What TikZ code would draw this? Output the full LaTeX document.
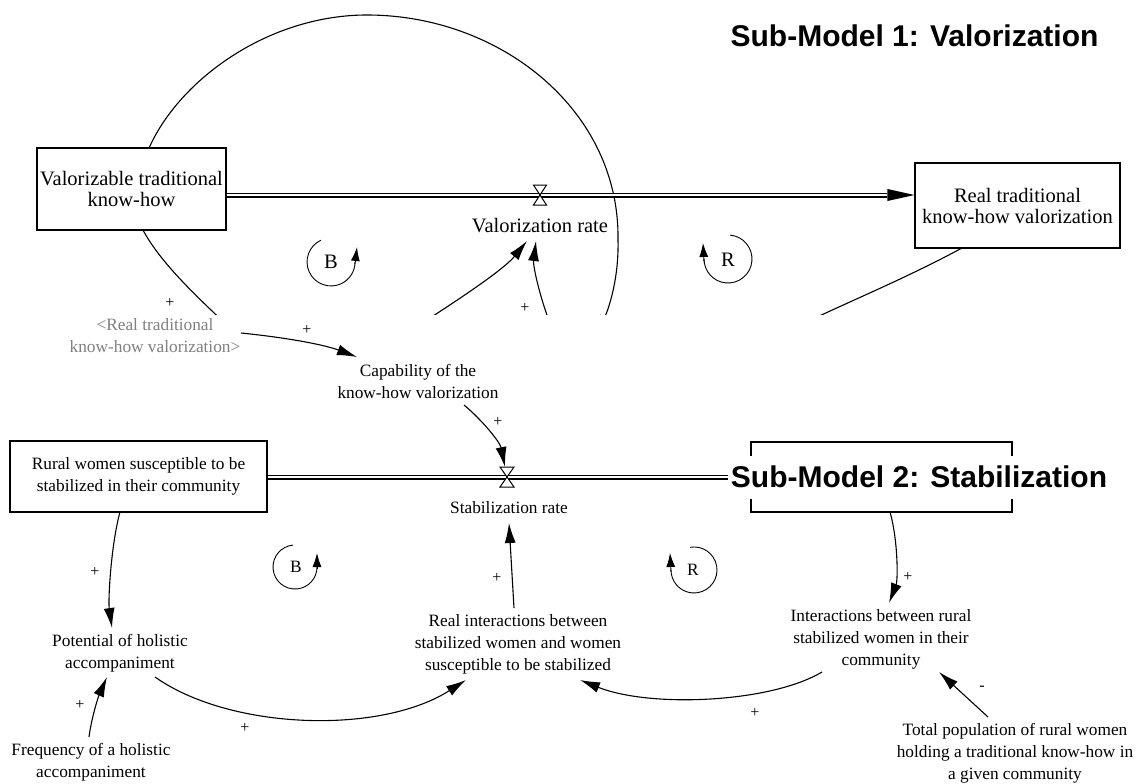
\documentclass[tikz,border=0pt]{standalone}
\usepackage{fontspec}
\setmainfont{Liberation Serif}
\setsansfont{Liberation Sans}
\usetikzlibrary{arrows.meta,calc}
\begin{document}
\begin{tikzpicture}[x=1pt,y=-1pt,
  stock/.style={draw, line width=1.1pt, fill=white, inner sep=0pt, align=center},
  toptxt/.style={font=\fontsize{20.5}{21}\selectfont, align=center, inner sep=0pt},
  bottxt/.style={font=\fontsize{17.3}{22}\selectfont, align=center, inner sep=0pt},
  signlbl/.style={font=\fontsize{16}{16}\selectfont, inner sep=0pt},
  link/.style={line width=1.1pt, -{Latex[length=20pt,width=11pt]}},
  pipe/.style={double, double distance=2.8pt, line width=1.1pt},
  valvest/.style={draw, fill=white, line width=1pt},
  loopline/.style={line width=0.9pt},
  looptip/.style={line width=0.9pt, -{Latex[length=14pt,width=9pt]}},
  subtitle/.style={font=\sffamily\bfseries\fontsize{30}{30}\selectfont, inner sep=0pt}
]
\useasboundingbox (0,0) rectangle (1138,784);
\fill[white] (0,0) rectangle (1138,784);

% ---------- Sub-model 1 (clipped at its lower edge) ----------
\coordinate (cA) at (230,328);
\coordinate (cB) at (143,230);
\coordinate (cC) at (367,15);
\coordinate (cD) at (618,240);
\coordinate (cE) at (597,335);
\begin{scope}
  \clip (0,0) rectangle (1138,314);
  \draw[link] (cA) .. controls (195,295) and (160,262) .. (cB)
     .. controls (110,140) and (230,15) .. (cC)
     .. controls (500,15) and (620,110) .. (cD)
     .. controls (619,280) and (608,310) .. (cE);
\end{scope}

\node[stock, toptxt, minimum width=189pt, minimum height=82pt] (vbox) at (131.5,189) {Valorizable traditional\\know-how};
\node[stock, toptxt, minimum width=205pt, minimum height=85pt] (rbox) at (1017.5,205.5) {Real traditional\\know-how valorization};
\coordinate (valve1) at (540,195);
\node[toptxt] (vrate) at (540,226) {Valorization rate};
\node[subtitle] (t1) at (914.5,36) {Sub-Model 1: Valorization};

\coordinate (ah1) at ([xshift=-27pt]rbox.west |- valve1);
\draw[pipe] (vbox.east |- valve1) -- (ah1);
\fill ($(ah1)+(0,-6)$) -- (rbox.west |- valve1) -- ($(ah1)+(0,6)$) -- cycle;
\draw[valvest] ($(valve1)+(-6.5,-10)$) -- ($(valve1)+(6.5,-10)$) -- (valve1) -- cycle;
\draw[valvest] ($(valve1)+(-6.5,10)$) -- ($(valve1)+(6.5,10)$) -- (valve1) -- cycle;

\coordinate (a1end) at (527,241);
\coordinate (a2end) at (536,241);
\begin{scope}
  \clip (0,0) rectangle (1138,314);
  \draw[link] (430,318) .. controls (470,292) and (505,268) .. (a1end);
  \draw[link] (548,318) .. controls (538,290) and (533,265) .. (a2end);
  \draw[line width=1.1pt] (962,248) .. controls (910,276) and (862,296) .. (815,318);
\end{scope}

\node[signlbl] at (170,303) {+};
\node[signlbl] at (525,308) {+};

% loops top
\draw[loopline] (320.9,240.2) arc[start angle=-115, end angle=-360, radius=24];
\draw[looptip] (355,264) -- (357,247);
\node[toptxt] (lb1) at (331,262) {B};
\draw[loopline] (730.1,235.1) arc[start angle=-85, end angle=180, radius=24];
\draw[looptip] (704,262) -- (703,243);
\node[toptxt] (lr1) at (728,260) {R};

% ---------- Sub-model 2 ----------
\node[bottxt, text=black!50] (shadow) at (155,336) {<Real traditional\\know-how valorization>};
\node[bottxt] (cap) at (418,381) {Capability of the\\know-how valorization};
\coordinate (valve2) at (507,477);
\node[bottxt] (srate) at (509,508) {Stabilization rate};
\node[stock, bottxt, minimum width=257pt, minimum height=71pt] (rural) at (138.5,476.5) {Rural women susceptible to be\\stabilized in their community};
\node[draw, line width=1.1pt, minimum width=261pt, minimum height=70pt, inner sep=0pt] (sbox) at (881.5,477) {};

\coordinate (ah2) at ([xshift=-22pt]sbox.west |- valve2);
\draw[pipe] (rural.east |- valve2) -- (ah2);
\fill ($(ah2)+(0,-6)$) -- (sbox.west |- valve2) -- ($(ah2)+(0,6)$) -- cycle;
\draw[valvest] ($(valve2)+(-7,-10)$) -- ($(valve2)+(7,-10)$) -- (valve2) -- cycle;
\draw[valvest] ($(valve2)+(-7,10)$) -- ($(valve2)+(7,10)$) -- (valve2) -- cycle;

\node[subtitle, fill=white, inner xsep=3pt, minimum height=43pt] (t2) at (919,477) {Sub-Model 2: Stabilization};

\node[bottxt] (pot) at (120,653.5) {Potential of holistic\\accompaniment};
\node[bottxt] (freq) at (91,762.5) {Frequency of a holistic\\accompaniment};
\node[bottxt] (realint) at (518,644.5) {Real interactions between\\stabilized women and women\\susceptible to be stabilized};
\node[bottxt] (inter) at (881,639) {Interactions between rural\\stabilized women in their\\community};
\node[bottxt] (total) at (1015,753.5) {Total population of rural women\\holding a traditional know-how in\\a given community};

\draw[link] (241,333) .. controls (290,338) and (325,345) .. (357,357);
\draw[link] (464,405) .. controls (482,420) and (500,442) .. ($(valve2)+(-2,-10)$);
\draw[link] (120,512) .. controls (111,545) and (108,600) .. (112,628);
\draw[link] (89,737) .. controls (92,715) and (99,695) .. (107,677);
\draw[link] (155,677) .. controls (230,730) and (380,735) .. (466,680);
\draw[link] (514,608) -- (509,523);
\draw[link] (890,512) .. controls (898,540) and (898,580) .. (889,603);
\draw[link] (822,672) .. controls (770,703) and (650,708) .. (580,680);
\draw[link] (988,717) -- (939,672);

\node[signlbl] at (307,330) {+};
\node[signlbl] at (498,422) {+};
\node[signlbl] at (95,572) {+};
\node[signlbl] at (80,705) {+};
\node[signlbl] at (245,728) {+};
\node[signlbl] at (497,578) {+};
\node[signlbl] at (908,577) {+};
\node[signlbl] at (755,713) {+};
\node[signlbl] at (982,688) {-};

% loops bottom
\draw[loopline] (293.1,545.1) arc[start angle=-95, end angle=-360, radius=22];
\draw[looptip] (317,569) -- (317,553);
\node[bottxt] (lb2) at (296,567) {B};
\draw[loopline] (690.0,547.3) arc[start angle=-100, end angle=180, radius=23];
\draw[looptip] (671,572) -- (670,553);
\node[bottxt] (lr2) at (693,570) {R};
\end{tikzpicture}
\end{document}
